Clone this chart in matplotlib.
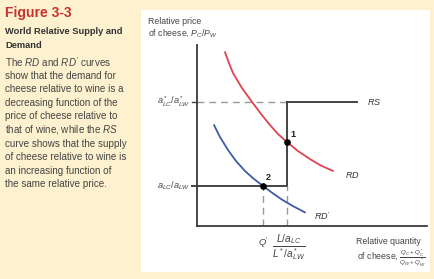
import matplotlib
matplotlib.use("Agg")
import matplotlib.pyplot as plt
from matplotlib.patches import Rectangle

plt.rcParams["font.family"] = ["Liberation Sans", "DejaVu Sans"]
plt.rcParams["mathtext.fontset"] = "custom"
plt.rcParams["mathtext.rm"] = "Liberation Sans"
plt.rcParams["mathtext.it"] = "Liberation Sans:italic"
plt.rcParams["mathtext.bf"] = "Liberation Sans:bold"

# data (chart units 0..10 on both axes)
rd_x = [1.22, 1.39, 1.57, 1.96, 2.40, 2.79, 3.18, 3.53, 3.92, 4.40, 4.92, 5.40, 5.93]
rd_y = [9.61, 9.01, 8.45, 7.62, 6.85, 6.19, 5.58, 5.08, 4.64, 4.14, 3.70, 3.34, 3.04]
rd2_x = [0.74, 1.00, 1.35, 1.70, 2.09, 2.48, 2.88, 3.31, 3.70, 4.18, 4.71]
rd2_y = [5.58, 4.92, 4.20, 3.59, 3.04, 2.60, 2.21, 1.80, 1.46, 1.10, 0.75]
rs_high = 6.85      # a*LC/a*LW
rs_low = 2.21       # aLC/aLW
rs_kink = 3.92      # L/aLC / L*/a*LW
rs_end = 6.97
q_prime = 2.88
eq1 = (3.92, 4.64)
eq2 = (2.88, 2.21)

body_lines = [
    "The $RD$ and $RD'$ curves",
    "show that the demand for",
    "cheese relative to wine is a",
    "decreasing function of the",
    "price of cheese relative to",
    "that of wine, while the $RS$",
    "curve shows that the supply",
    "of cheese relative to wine is",
    "an increasing function of",
    "the same relative price.",
]

W, H = 435, 279
fig = plt.figure(figsize=(W / 100, H / 100), dpi=100)
fig.patch.set_facecolor("#fdf1cf")
fig.patches.append(Rectangle((141 / W, 1 - 272 / H), (430 - 141) / W, (272 - 10) / H,
                             transform=fig.transFigure, facecolor="white",
                             edgecolor="none", zorder=-10))

# left caption
fig.text(5 / W, 1 - 13 / H, "Figure 3-3", color="#c8312e", fontsize=10,
         fontweight="bold", va="center")
fig.text(5 / W, 1 - 32 / H, "World Relative Supply and", color="#333333",
         fontsize=6.7, fontweight="bold", va="center")
fig.text(5 / W, 1 - 46 / H, "Demand", color="#333333", fontsize=6.7,
         fontweight="bold", va="center")
for i, line in enumerate(body_lines):
    fig.text(5 / W, 1 - (62 + 13.6 * i) / H, line, color="#444444",
             fontsize=7.1, va="center")

ax = fig.add_axes([197 / W, 1 - 226 / H, (426.5 - 197) / W, (226 - 45) / H])
ax.set_zorder(2)
ax.set_xlim(0, 10)
ax.set_ylim(0, 10)
ax.patch.set_alpha(0)
for s in ["top", "right"]:
    ax.spines[s].set_visible(False)
for s in ["left", "bottom"]:
    ax.spines[s].set_color("#3a3a3a")
    ax.spines[s].set_linewidth(1.3)
ax.set_xticks([])
ax.set_yticks([])

dash = dict(color="#999999", lw=1.0, linestyle=(0, (5, 3.5)))
axc = "#444444"

# RS curve
ax.plot([-0.2, 0], [rs_high, rs_high], color=axc, lw=1.0, clip_on=False)
ax.plot([0, rs_kink], [rs_high, rs_high], **dash)
ax.plot([rs_kink, rs_end], [rs_high, rs_high], color=axc, lw=1.4)
ax.plot([rs_kink, rs_kink], [rs_low, rs_high], color=axc, lw=1.4)
ax.plot([-0.2, rs_kink], [rs_low, rs_low], color=axc, lw=1.4, clip_on=False)
ax.plot([rs_kink, rs_kink], [0, rs_low], **dash)
ax.plot([q_prime, q_prime], [0, rs_low], **dash)

# demand curves
ax.plot(rd_x, rd_y, color="#dc4450", lw=1.3, solid_capstyle="round",
        solid_joinstyle="round")
ax.plot(rd2_x, rd2_y, color="#3f5aa6", lw=1.3, solid_capstyle="round",
        solid_joinstyle="round")

ax.plot(*eq1, "o", color="black", ms=3.8, zorder=5)
ax.plot(*eq2, "o", color="black", ms=3.8, zorder=5)
ax.text(eq1[0] + 0.15, eq1[1] + 0.3, "1", fontsize=6.5, fontweight="bold", color="#222")
ax.text(eq2[0] + 0.1, eq2[1] + 0.35, "2", fontsize=6.5, fontweight="bold", color="#222")

ax.text(rs_end + 0.45, rs_high, "$RS$", fontsize=6.5, va="center", color="#333")
ax.text(rd_x[-1] + 0.5, rd_y[-1] - 0.2, "$RD$", fontsize=6.5, va="center", color="#333")
ax.text(rd2_x[-1] + 0.4, rd2_y[-1] - 0.2, "$RD'$", fontsize=6.5, va="center", color="#333")

ax.text(-0.3, rs_high, "$a^*_{LC}/a^*_{LW}$", fontsize=6.6, ha="right", va="center",
        color="#444")
ax.text(-0.3, rs_low, "$a_{LC}/a_{LW}$", fontsize=6.6, ha="right", va="center",
        color="#444")
ax.text(q_prime, -0.55, "$Q'$", fontsize=6.8, ha="center", va="top", color="#444")
ax.text(rs_kink + 0.1, -0.4, r"$\frac{L/a_{LC}}{L^*/a^*_{LW}}$", fontsize=10.5,
        ha="center", va="top", color="#444")

fig.text(148 / W, 1 - 22 / H, "Relative price", fontsize=6.3, color="#444", va="center")
fig.text(148 / W, 1 - 33 / H, "of cheese, $P_C/P_W$", fontsize=6.3, color="#444",
         va="center")
fig.text(388 / W, 1 - 242 / H, "Relative quantity", fontsize=6.3, color="#444",
         ha="center", va="center")
fig.text(426 / W, 1 - 258 / H,
         r"of cheese, $\frac{Q_C+Q^*_C}{Q_W+Q^*_W}$", fontsize=6.3, color="#444",
         ha="right", va="center")

fig.savefig("out.png", dpi=100, facecolor=fig.get_facecolor())
